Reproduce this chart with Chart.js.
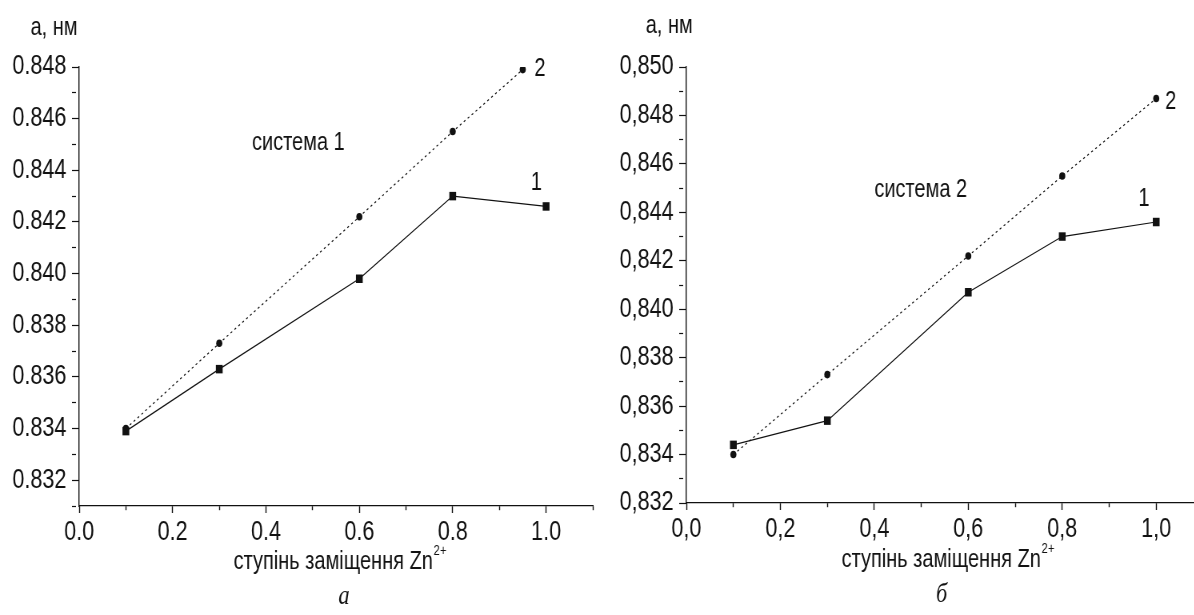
<!DOCTYPE html>
<html>
<head>
<meta charset="utf-8">
<script src="https://cdn.jsdelivr.net/npm/chart.js@4.4.1/dist/chart.umd.min.js"></script>
<style>
  html, body { margin: 0; padding: 0; background: #fff; overflow: hidden; }
  #wrap { position: relative; width: 1194px; height: 615px; overflow: hidden; }
  /* the source figure is horizontally compressed, so the canvases are too */
  canvas { position: absolute; top: 0; transform: scaleX(0.8); transform-origin: 0 0; }
</style>
</head>
<body>
<div id="wrap">
  <canvas id="chartA" width="750" height="615" style="left:0"></canvas>
  <canvas id="chartB" width="765" height="615" style="left:600px"></canvas>
</div>
<script>
// system 1 (panel а)
const zn1Line1 = [0.1, 0.3, 0.6, 0.8, 1.0];
const a1Line1 = [0.8339, 0.8363, 0.8398, 0.8430, 0.8426];
const zn1Line2 = [0.1, 0.3, 0.6, 0.8, 0.95];
const a1Line2 = [0.8340, 0.8373, 0.8422, 0.8455, 0.8479];

// system 2 (panel б)
const zn2 = [0.1, 0.3, 0.6, 0.8, 1.0];
const a2Line1 = [0.8344, 0.8354, 0.8407, 0.8430, 0.8436];
const a2Line2 = [0.8340, 0.8373, 0.8422, 0.8455, 0.8487];

const SANS = "'Liberation Sans', Arial, sans-serif";
const INK = '#111';

const pts = (xs, ys) => xs.map((x, i) => ({ x: x, y: ys[i] }));

// draws annotation texts, axis titles and panel letter
const notesPlugin = {
  id: 'notes',
  afterDraw(chart, args, opts) {
    const { ctx, chartArea, scales } = chart;
    ctx.save();
    ctx.fillStyle = INK;
    ctx.textBaseline = 'middle';
    (opts.labels || []).forEach(l => {
      ctx.font = l.font;
      ctx.textAlign = 'left';
      ctx.fillText(l.text, scales.x.getPixelForValue(l.x), scales.y.getPixelForValue(l.y));
    });
    // y title
    ctx.font = '25px ' + SANS;
    ctx.textAlign = 'right';
    ctx.fillText('а, нм', chartArea.left + opts.yTitleDx, opts.yTitleY);
    // x title with superscript
    const main = 'ступінь заміщення Zn';
    const sup = '2+';
    ctx.font = '25px ' + SANS;
    const w1 = ctx.measureText(main).width;
    ctx.font = '14px ' + SANS;
    const w2 = ctx.measureText(sup).width;
    const x0 = opts.xTitleX - (w1 + w2 + 1) / 2;
    ctx.textAlign = 'left';
    ctx.font = '25px ' + SANS;
    ctx.fillText(main, x0, opts.xTitleY);
    ctx.font = '14px ' + SANS;
    ctx.fillText(sup, x0 + w1 + 1, opts.xTitleY - 11);
    // panel letter
    ctx.font = 'italic 28px "Liberation Serif", "DejaVu Serif", serif';
    ctx.textAlign = 'center';
    ctx.fillText(opts.letter, opts.letterX, opts.letterY);
    ctx.restore();
  }
};

function isMinor(v, unit) {
  return Math.round(v / unit) % 2 !== 0;
}

function makeChart(id, cfg) {
  return new Chart(document.getElementById(id), {
    type: 'scatter',
    data: {
      datasets: [
        {
          data: cfg.line1,
          showLine: true,
          borderColor: INK,
          borderWidth: 1.2,
          pointStyle: 'rect',
          pointRadius: 6,
          pointBackgroundColor: INK,
          pointBorderColor: INK,
          pointBorderWidth: 0
        },
        {
          data: cfg.line2,
          showLine: true,
          borderColor: INK,
          borderWidth: 1.2,
          borderDash: [2.5, 3.5],
          pointStyle: 'circle',
          pointRadius: 3.8,
          pointBackgroundColor: INK,
          pointBorderColor: INK,
          pointBorderWidth: 0
        }
      ]
    },
    options: {
      responsive: false,
      animation: false,
      layout: { padding: { left: 0, top: 67, right: cfg.padRight, bottom: 0 } },
      plugins: {
        legend: { display: false },
        tooltip: { enabled: false },
        notes: cfg.notes
      },
      scales: {
        x: {
          type: 'linear',
          min: 0,
          max: 1.1,
          afterFit: s => { s.height = cfg.xHeight; },
          border: { display: true, color: INK, width: 1.2 },
          grid: {
            drawOnChartArea: false,
            drawTicks: true,
            tickLength: 7,
            tickColor: INK,
            tickWidth: 1.4,
            tickBorderDash: c => (c.tick && isMinor(c.tick.value, 0.1)) ? [4, 20] : []
          },
          ticks: {
            stepSize: 0.1,
            includeBounds: false,
            autoSkip: false,
            maxRotation: 0,
            padding: 3,
            color: INK,
            font: { family: SANS, size: 27 },
            callback: v => isMinor(v, 0.1) ? '' : cfg.fmt(v.toFixed(1))
          }
        },
        y: {
          type: 'linear',
          min: cfg.yMin,
          max: cfg.yMax,
          afterFit: s => { s.width = cfg.yWidth; },
          border: { display: true, color: INK, width: 1.4 },
          grid: {
            drawOnChartArea: false,
            drawTicks: true,
            tickLength: 9,
            tickColor: INK,
            tickWidth: 1.2,
            tickBorderDash: c => (c.tick && isMinor(c.tick.value, 0.001)) ? [5, 20] : []
          },
          ticks: {
            stepSize: 0.001,
            autoSkip: false,
            padding: 7,
            color: INK,
            font: { family: SANS, size: 27 },
            callback: v => isMinor(v, 0.001) ? '' : cfg.fmt(v.toFixed(3))
          }
        }
      }
    },
    plugins: [notesPlugin]
  });
}

makeChart('chartA', {
  line1: pts(zn1Line1, a1Line1),
  line2: pts(zn1Line2, a1Line2),
  yMin: 0.831,
  yMax: 0.848,
  yWidth: 99,
  xHeight: 109,
  padRight: 9,
  fmt: s => s,
  notes: {
    labels: [
      { text: 'система 1', x: 0.37, y: 0.84505, font: '25px ' + SANS },
      { text: '2', x: 0.975, y: 0.84792, font: '25px ' + SANS },
      { text: '1', x: 0.967, y: 0.8435, font: '25px ' + SANS }
    ],
    yTitleDx: -2,
    yTitleY: 28,
    xTitleX: 425,
    xTitleY: 562,
    letter: 'а',
    letterX: 430,
    letterY: 597
  }
});

makeChart('chartB', {
  line1: pts(zn2, a2Line1),
  line2: pts(zn2, a2Line2),
  yMin: 0.832,
  yMax: 0.850,
  yWidth: 108,
  xHeight: 112,
  padRight: 11,
  fmt: s => s.replace('.', ','),
  notes: {
    labels: [
      { text: 'система 2', x: 0.4, y: 0.84492, font: '25px ' + SANS },
      { text: '2', x: 1.019, y: 0.84855, font: '25px ' + SANS },
      { text: '1', x: 0.962, y: 0.84455, font: '25px ' + SANS }
    ],
    yTitleDx: 8,
    yTitleY: 26,
    xTitleX: 435,
    xTitleY: 560,
    letter: 'б',
    letterX: 427,
    letterY: 595
  }
});
</script>
</body>
</html>
